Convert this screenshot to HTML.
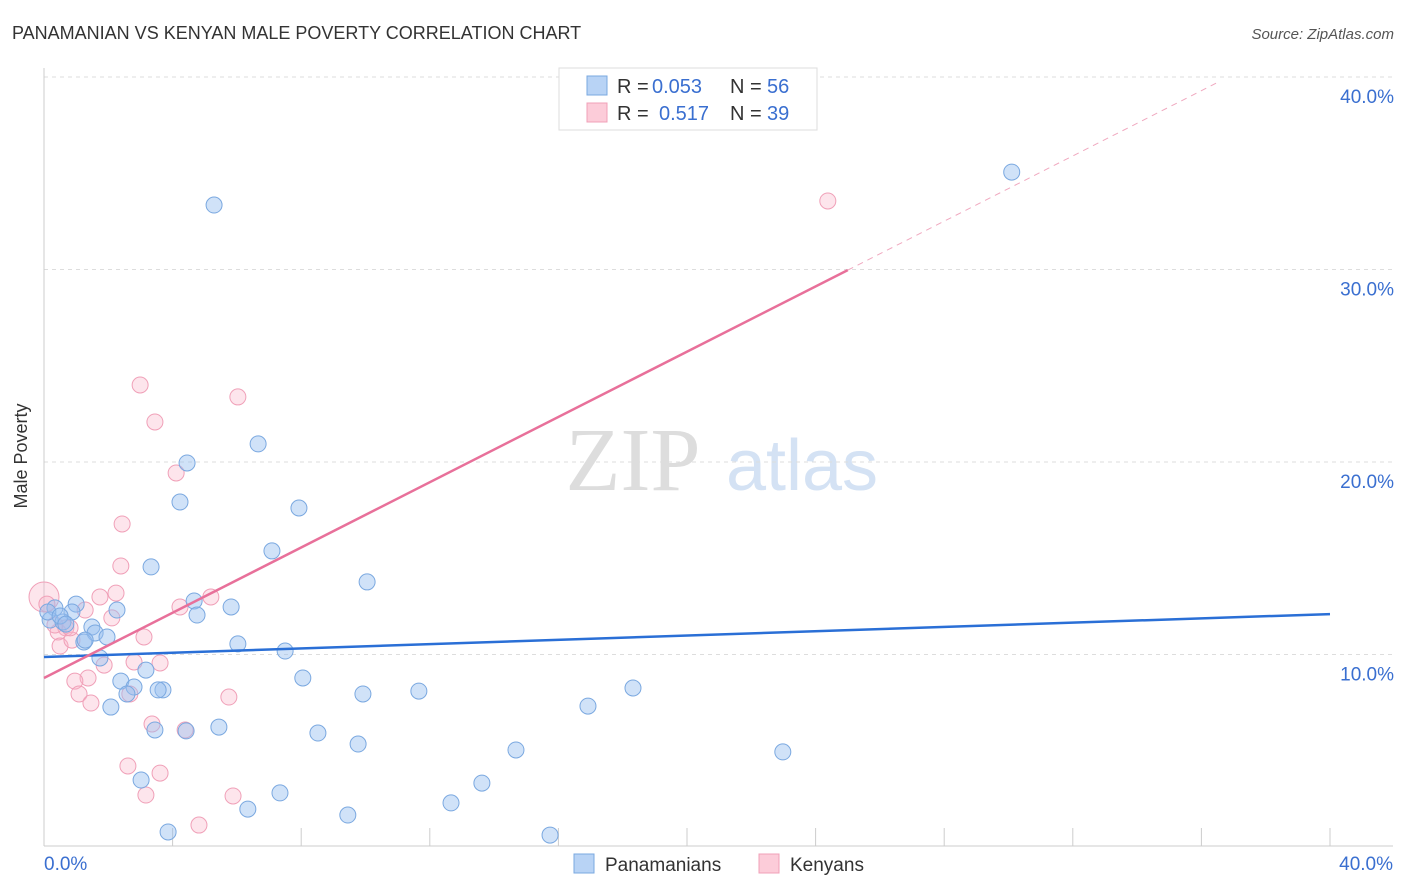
<!DOCTYPE html>
<html><head><meta charset="utf-8"><style>
body{margin:0;background:#fff;font-family:"Liberation Sans",sans-serif;}
svg{display:block}
</style></head><body>
<svg width="1406" height="892" xmlns="http://www.w3.org/2000/svg">
<text x="12" y="39" font-size="18" fill="#333">PANAMANIAN VS KENYAN MALE POVERTY CORRELATION CHART</text>
<text x="1394" y="39" font-size="15" fill="#555" text-anchor="end" font-style="italic">Source: ZipAtlas.com</text>
<g>
<text x="633" y="490" font-size="90" fill="#ddd" font-family="Liberation Serif,serif" text-anchor="middle">ZIP</text>
<text x="802" y="490" font-size="72" fill="#d4e2f4" text-anchor="middle">atlas</text>
</g>
<g id="grid"></g>
<g id="axes"></g>
<g id="pts"></g>
<g id="trend"></g>
<text x="27" y="456" font-size="18" fill="#333" text-anchor="middle" transform="rotate(-90 27 456)">Male Poverty</text>
<g>
<rect x="559" y="68" width="258" height="62" fill="#fff" stroke="#ddd"/>
<rect x="587" y="76" width="20" height="19" fill="#b8d3f5" stroke="#7aa8e0"/>
<rect x="587" y="103" width="20" height="19" fill="#fcccd9" stroke="#f0a0b8"/>
<text y="93" font-size="20" fill="#333"><tspan x="617">R =</tspan><tspan x="652" fill="#3a6fd0">0.053</tspan><tspan x="730">N =</tspan><tspan x="767" fill="#3a6fd0">56</tspan></text>
<text y="120" font-size="20" fill="#333"><tspan x="617">R =</tspan><tspan x="659" fill="#3a6fd0">0.517</tspan><tspan x="730">N =</tspan><tspan x="767" fill="#3a6fd0">39</tspan></text>
</g>
<g>
<rect x="574" y="854" width="20" height="19" fill="#b8d3f5" stroke="#7aa8e0"/>
<text x="605" y="871" font-size="19" fill="#333">Panamanians</text>
<rect x="759" y="854" width="20" height="19" fill="#fcccd9" stroke="#f0a0b8"/>
<text x="790" y="871" font-size="19" fill="#333">Kenyans</text>
</g>
</svg>
<script>
const blueX=[30.1,5.29,6.66,4.45,4.23,7.93,7.09,3.33,10.05,4.67,5.82,4.76,2.27,1.0,0.87,0.34,0.19,0.59,1.49,1.59,1.96,1.24,6.03,7.5,1.74,3.17,8.05,2.39,2.8,3.7,3.55,2.58,9.92,11.66,18.32,2.08,16.92,3.45,5.44,4.42,8.52,9.77,14.68,22.98,3.02,13.62,7.34,12.66,6.34,9.45,3.86,15.74,0.12,0.5,0.68,1.28];
const blueY=[35.06,33.35,20.94,19.95,17.92,17.61,15.38,14.55,13.77,12.78,12.47,12.05,12.31,12.62,12.21,12.42,11.79,11.69,11.43,11.12,10.91,10.65,10.55,10.18,9.82,9.19,8.78,8.62,8.31,8.16,8.16,7.95,7.95,8.1,8.26,7.27,7.32,6.08,6.23,6.03,5.92,5.35,5.04,4.94,3.48,3.32,2.81,2.29,1.97,1.66,0.78,0.62,12.21,12.0,11.58,10.75];
const pinkX=[24.38,2.99,6.03,3.45,4.11,2.43,2.39,2.24,1.74,5.19,4.23,1.28,2.11,0.68,0.44,0.0,3.11,0.5,0.87,1.87,3.61,2.8,1.37,0.96,1.09,5.75,2.67,1.46,3.36,4.39,2.61,3.61,3.17,5.88,4.82,0.09,0.34,0.81];
const pinkY=[33.56,24.0,23.38,22.08,19.43,16.78,14.6,13.19,12.99,12.99,12.47,12.31,11.9,11.38,11.17,12.99,10.91,10.44,10.75,9.45,9.56,9.61,8.78,8.62,7.95,7.79,7.95,7.48,6.39,6.08,4.21,3.84,2.7,2.65,1.14,12.62,11.53,11.38];
const yTicks=[10,20,30,40];
const yTickLabels=["10.0%","20.0%","30.0%","40.0%"];
const blueTrend=[9.87,12.1];
const pinkTrend=[8.78,0.8475];
const NS="http://www.w3.org/2000/svg";
const sx=v=>44+v/40*1286, sy=v=>847-v*19.25;
function mk(t,a,p){const e=document.createElementNS(NS,t);for(const k in a)e.setAttribute(k,a[k]);p.appendChild(e);return e;}
const grid=document.getElementById('grid'),axes=document.getElementById('axes'),pts=document.getElementById('pts'),trend=document.getElementById('trend');
yTicks.forEach((v,i)=>{
 const l=mk('line',{x1:44,x2:1393,y1:sy(v),y2:sy(v),stroke:'#ddd','stroke-dasharray':'4,4'},grid);
 
 
 const t=mk('text',{x:1394,y:sy(v)+26,'font-size':19,fill:'#3a6fd0','text-anchor':'end'},axes);
 t.textContent=yTickLabels[i];
 
 
});
mk('line',{x1:44,x2:44,y1:68,y2:846,stroke:'#ccc'},axes);
mk('line',{x1:44,x2:1393,y1:846,y2:846,stroke:'#ccc'},axes);
for(let i=0;i<=10;i++){const tk=mk('line',{x1:sx(i*4),x2:sx(i*4),y1:828,y2:846,stroke:'#ccc'},axes);
 
 }
let t0=mk('text',{x:44,y:870,'font-size':19,fill:'#3a6fd0'},axes);t0.textContent='0.0%';


let t1=mk('text',{x:1393,y:870,'font-size':19,fill:'#3a6fd0','text-anchor':'end'},axes);t1.textContent='40.0%';


pinkX.forEach((x,i)=>{const c=mk('circle',{cx:sx(x),cy:sy(pinkY[i]),r:(i==15?15:8),fill:'rgba(248,180,200,0.35)',stroke:'#f0a0b8','stroke-width':1},pts);
 
 });
blueX.forEach((x,i)=>{const c=mk('circle',{cx:sx(x),cy:sy(blueY[i]),r:8,fill:'rgba(150,190,240,0.45)',stroke:'#7aa8e0','stroke-width':1},pts);
 
 });
let bl=mk('line',{x1:sx(0),y1:sy(blueTrend[0]),x2:sx(40),y2:sy(blueTrend[1]),stroke:'#2a6fd6','stroke-width':2.5},trend);


const pe=25,pm=36.5;
let pl=mk('line',{x1:sx(0),y1:sy(pinkTrend[0]),x2:sx(pe),y2:sy(pinkTrend[0]+pinkTrend[1]*pe),stroke:'#e8709a','stroke-width':2.5},trend);


let pd=mk('line',{x1:sx(pe),y1:sy(pinkTrend[0]+pinkTrend[1]*pe),x2:sx(pm),y2:sy(pinkTrend[0]+pinkTrend[1]*pm),stroke:'#f0a8bf','stroke-width':1,'stroke-dasharray':'6,5'},trend);


</script>
</body></html>
